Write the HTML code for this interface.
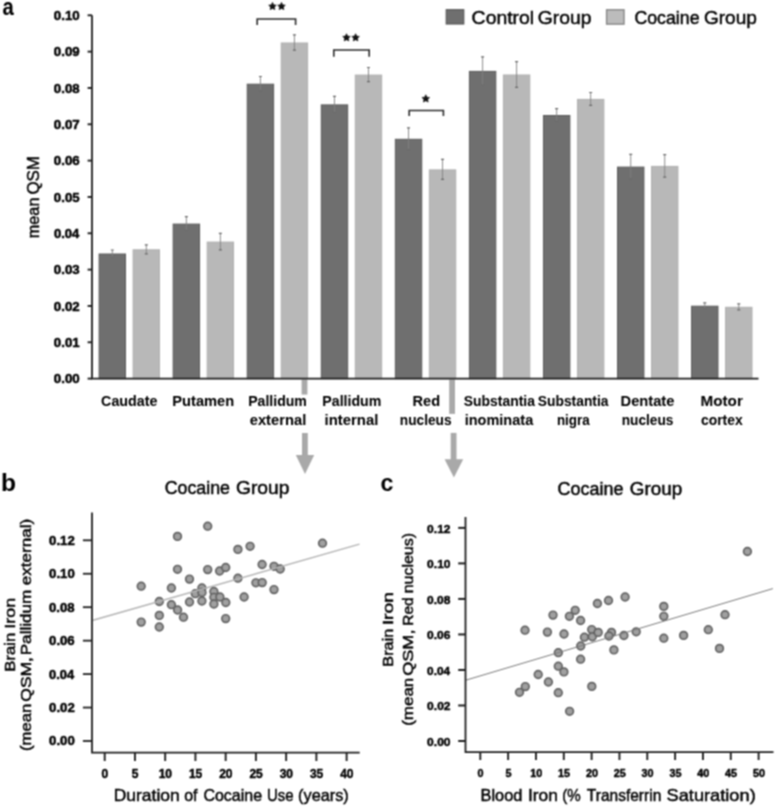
<!DOCTYPE html>
<html><head><meta charset="utf-8"><style>
html,body{margin:0;padding:0;background:#fff;}
body{width:776px;height:807px;overflow:hidden;}
svg{display:block;font-family:"Liberation Sans",sans-serif;}
</style></head><body>
<svg width="776" height="807" viewBox="0 0 776 807">
<defs><radialGradient id="ptg"><stop offset="0" stop-color="#a6a6a6"/><stop offset="0.55" stop-color="#9c9c9c"/><stop offset="1" stop-color="#8a8a8a"/></radialGradient><filter id="soft" filterUnits="userSpaceOnUse" x="0" y="0" width="776" height="807" color-interpolation-filters="sRGB"><feConvolveMatrix order="3" kernelMatrix="1 2 1 2 4 2 1 2 1" divisor="16" edgeMode="duplicate"/></filter></defs>
<g filter="url(#soft)">
<rect width="776" height="807" fill="#fff"/>
<rect x="301.60" y="379.50" width="5.8" height="15.10" fill="#a9a9a9"/>
<rect x="302.00" y="433.00" width="5.8" height="22.50" fill="#a9a9a9"/>
<polygon points="295.80,455.00 314.20,455.00 305.00,474.00" fill="#a9a9a9"/>
<rect x="449.20" y="379.50" width="5.8" height="34.40" fill="#a9a9a9"/>
<rect x="450.70" y="432.90" width="5.8" height="27.10" fill="#a9a9a9"/>
<polygon points="444.60,459.20 463.20,459.20 453.90,477.50" fill="#a9a9a9"/>
<rect x="99.10" y="254.00" width="26.40" height="124.60" fill="#6f6f6f" stroke="#5c5c5c" stroke-width="1"/>
<rect x="133.10" y="249.80" width="26.40" height="128.80" fill="#b8b8b8" stroke="#b0b0b0" stroke-width="1"/>
<path d="M112.30 250.00V257.00" stroke="#808080" stroke-width="0.9" fill="none"/>
<path d="M110.80 250.00H113.80M110.80 257.00H113.80" stroke="#6a6a6a" stroke-width="1.2" fill="none"/>
<path d="M146.30 244.80V253.80" stroke="#808080" stroke-width="0.9" fill="none"/>
<path d="M144.80 244.80H147.80M144.80 253.80H147.80" stroke="#6a6a6a" stroke-width="1.2" fill="none"/>
<rect x="173.16" y="224.10" width="26.40" height="154.50" fill="#6f6f6f" stroke="#5c5c5c" stroke-width="1"/>
<rect x="207.16" y="242.10" width="26.40" height="136.50" fill="#b8b8b8" stroke="#b0b0b0" stroke-width="1"/>
<path d="M186.36 216.70V230.50" stroke="#808080" stroke-width="0.9" fill="none"/>
<path d="M184.86 216.70H187.86M184.86 230.50H187.86" stroke="#6a6a6a" stroke-width="1.2" fill="none"/>
<path d="M220.36 233.30V249.90" stroke="#808080" stroke-width="0.9" fill="none"/>
<path d="M218.86 233.30H221.86M218.86 249.90H221.86" stroke="#6a6a6a" stroke-width="1.2" fill="none"/>
<rect x="247.22" y="84.20" width="26.40" height="294.40" fill="#6f6f6f" stroke="#5c5c5c" stroke-width="1"/>
<rect x="281.22" y="43.00" width="26.40" height="335.60" fill="#b8b8b8" stroke="#b0b0b0" stroke-width="1"/>
<path d="M260.42 76.50V90.90" stroke="#808080" stroke-width="0.9" fill="none"/>
<path d="M258.92 76.50H261.92M258.92 90.90H261.92" stroke="#6a6a6a" stroke-width="1.2" fill="none"/>
<path d="M294.42 34.80V50.20" stroke="#808080" stroke-width="0.9" fill="none"/>
<path d="M292.92 34.80H295.92M292.92 50.20H295.92" stroke="#6a6a6a" stroke-width="1.2" fill="none"/>
<rect x="321.28" y="104.90" width="26.40" height="273.70" fill="#6f6f6f" stroke="#5c5c5c" stroke-width="1"/>
<rect x="355.28" y="75.10" width="26.40" height="303.50" fill="#b8b8b8" stroke="#b0b0b0" stroke-width="1"/>
<path d="M334.48 96.30V112.50" stroke="#808080" stroke-width="0.9" fill="none"/>
<path d="M332.98 96.30H335.98M332.98 112.50H335.98" stroke="#6a6a6a" stroke-width="1.2" fill="none"/>
<path d="M368.48 67.50V81.70" stroke="#808080" stroke-width="0.9" fill="none"/>
<path d="M366.98 67.50H369.98M366.98 81.70H369.98" stroke="#6a6a6a" stroke-width="1.2" fill="none"/>
<rect x="395.34" y="139.30" width="26.40" height="239.30" fill="#6f6f6f" stroke="#5c5c5c" stroke-width="1"/>
<rect x="429.34" y="169.90" width="26.40" height="208.70" fill="#b8b8b8" stroke="#b0b0b0" stroke-width="1"/>
<path d="M408.54 127.90V149.70" stroke="#808080" stroke-width="0.9" fill="none"/>
<path d="M407.04 127.90H410.04M407.04 149.70H410.04" stroke="#6a6a6a" stroke-width="1.2" fill="none"/>
<path d="M442.54 159.40V179.40" stroke="#808080" stroke-width="0.9" fill="none"/>
<path d="M441.04 159.40H444.04M441.04 179.40H444.04" stroke="#6a6a6a" stroke-width="1.2" fill="none"/>
<rect x="469.40" y="71.40" width="26.40" height="307.20" fill="#6f6f6f" stroke="#5c5c5c" stroke-width="1"/>
<rect x="503.40" y="75.00" width="26.40" height="303.60" fill="#b8b8b8" stroke="#b0b0b0" stroke-width="1"/>
<path d="M482.60 56.80V85.00" stroke="#808080" stroke-width="0.9" fill="none"/>
<path d="M481.10 56.80H484.10M481.10 85.00H484.10" stroke="#6a6a6a" stroke-width="1.2" fill="none"/>
<path d="M516.60 61.70V87.30" stroke="#808080" stroke-width="0.9" fill="none"/>
<path d="M515.10 61.70H518.10M515.10 87.30H518.10" stroke="#6a6a6a" stroke-width="1.2" fill="none"/>
<rect x="543.46" y="115.50" width="26.40" height="263.10" fill="#6f6f6f" stroke="#5c5c5c" stroke-width="1"/>
<rect x="577.46" y="99.40" width="26.40" height="279.20" fill="#b8b8b8" stroke="#b0b0b0" stroke-width="1"/>
<path d="M556.66 108.70V121.30" stroke="#808080" stroke-width="0.9" fill="none"/>
<path d="M555.16 108.70H558.16M555.16 121.30H558.16" stroke="#6a6a6a" stroke-width="1.2" fill="none"/>
<path d="M590.66 92.50V105.30" stroke="#808080" stroke-width="0.9" fill="none"/>
<path d="M589.16 92.50H592.16M589.16 105.30H592.16" stroke="#6a6a6a" stroke-width="1.2" fill="none"/>
<rect x="617.52" y="167.10" width="26.40" height="211.50" fill="#6f6f6f" stroke="#5c5c5c" stroke-width="1"/>
<rect x="651.52" y="166.40" width="26.40" height="212.20" fill="#b8b8b8" stroke="#b0b0b0" stroke-width="1"/>
<path d="M630.72 154.40V178.80" stroke="#808080" stroke-width="0.9" fill="none"/>
<path d="M629.22 154.40H632.22M629.22 178.80H632.22" stroke="#6a6a6a" stroke-width="1.2" fill="none"/>
<path d="M664.72 154.60V177.20" stroke="#808080" stroke-width="0.9" fill="none"/>
<path d="M663.22 154.60H666.22M663.22 177.20H666.22" stroke="#6a6a6a" stroke-width="1.2" fill="none"/>
<rect x="691.58" y="306.20" width="26.40" height="72.40" fill="#6f6f6f" stroke="#5c5c5c" stroke-width="1"/>
<rect x="725.58" y="307.30" width="26.40" height="71.30" fill="#b8b8b8" stroke="#b0b0b0" stroke-width="1"/>
<path d="M704.78 302.90V308.50" stroke="#808080" stroke-width="0.9" fill="none"/>
<path d="M703.28 302.90H706.28M703.28 308.50H706.28" stroke="#6a6a6a" stroke-width="1.2" fill="none"/>
<path d="M738.78 303.80V309.80" stroke="#808080" stroke-width="0.9" fill="none"/>
<path d="M737.28 303.80H740.28M737.28 309.80H740.28" stroke="#6a6a6a" stroke-width="1.2" fill="none"/>
<path d="M92.00 15.2V378.60H758.5" stroke="#1e1e1e" stroke-width="1.8" fill="none"/>
<path d="M87.6 378.60H92.00" stroke="#1e1e1e" stroke-width="1.9"/>
<text x="53.87" y="383.45" font-size="13.20" font-weight="bold" textLength="25.87" lengthAdjust="spacingAndGlyphs" fill="#000" stroke="#000" stroke-width="0.5">0.00</text>
<path d="M87.6 342.27H92.00" stroke="#1e1e1e" stroke-width="1.9"/>
<text x="53.88" y="347.12" font-size="13.20" font-weight="bold" textLength="25.69" lengthAdjust="spacingAndGlyphs" fill="#000" stroke="#000" stroke-width="0.5">0.01</text>
<path d="M87.6 305.94H92.00" stroke="#1e1e1e" stroke-width="1.9"/>
<text x="53.87" y="310.79" font-size="13.20" font-weight="bold" textLength="25.86" lengthAdjust="spacingAndGlyphs" fill="#000" stroke="#000" stroke-width="0.5">0.02</text>
<path d="M87.6 269.61H92.00" stroke="#1e1e1e" stroke-width="1.9"/>
<text x="53.88" y="274.46" font-size="13.20" font-weight="bold" textLength="25.80" lengthAdjust="spacingAndGlyphs" fill="#000" stroke="#000" stroke-width="0.5">0.03</text>
<path d="M87.6 233.28H92.00" stroke="#1e1e1e" stroke-width="1.9"/>
<text x="53.88" y="238.13" font-size="13.20" font-weight="bold" textLength="25.39" lengthAdjust="spacingAndGlyphs" fill="#000" stroke="#000" stroke-width="0.5">0.04</text>
<path d="M87.6 196.95H92.00" stroke="#1e1e1e" stroke-width="1.9"/>
<text x="53.88" y="201.80" font-size="13.20" font-weight="bold" textLength="25.69" lengthAdjust="spacingAndGlyphs" fill="#000" stroke="#000" stroke-width="0.5">0.05</text>
<path d="M87.6 160.62H92.00" stroke="#1e1e1e" stroke-width="1.9"/>
<text x="53.88" y="165.47" font-size="13.20" font-weight="bold" textLength="25.80" lengthAdjust="spacingAndGlyphs" fill="#000" stroke="#000" stroke-width="0.5">0.06</text>
<path d="M87.6 124.29H92.00" stroke="#1e1e1e" stroke-width="1.9"/>
<text x="53.87" y="129.14" font-size="13.20" font-weight="bold" textLength="25.91" lengthAdjust="spacingAndGlyphs" fill="#000" stroke="#000" stroke-width="0.5">0.07</text>
<path d="M87.6 87.96H92.00" stroke="#1e1e1e" stroke-width="1.9"/>
<text x="53.88" y="92.81" font-size="13.20" font-weight="bold" textLength="25.73" lengthAdjust="spacingAndGlyphs" fill="#000" stroke="#000" stroke-width="0.5">0.08</text>
<path d="M87.6 51.63H92.00" stroke="#1e1e1e" stroke-width="1.9"/>
<text x="53.88" y="56.48" font-size="13.20" font-weight="bold" textLength="25.82" lengthAdjust="spacingAndGlyphs" fill="#000" stroke="#000" stroke-width="0.5">0.09</text>
<path d="M87.6 15.30H92.00" stroke="#1e1e1e" stroke-width="1.9"/>
<text x="53.87" y="20.15" font-size="13.20" font-weight="bold" textLength="25.87" lengthAdjust="spacingAndGlyphs" fill="#000" stroke="#000" stroke-width="0.5">0.10</text>
<text transform="rotate(-90)" x="-238.28" y="38.70" font-size="16.60" font-weight="normal" textLength="40.74" lengthAdjust="spacingAndGlyphs" fill="#000" stroke="#000" stroke-width="0.45">mean</text>
<text transform="rotate(-90)" x="-194.50" y="38.70" font-size="16.60" font-weight="normal" textLength="38.38" lengthAdjust="spacingAndGlyphs" fill="#000" stroke="#000" stroke-width="0.45">QSM</text>
<text x="101.11" y="405.60" font-size="14.40" font-weight="bold" textLength="56.37" lengthAdjust="spacingAndGlyphs" fill="#000" stroke="#000" stroke-width="0.05">Caudate</text>
<text x="172.32" y="405.60" font-size="14.40" font-weight="bold" textLength="61.89" lengthAdjust="spacingAndGlyphs" fill="#000" stroke="#000" stroke-width="0.05">Putamen</text>
<text x="248.16" y="405.60" font-size="14.40" font-weight="bold" textLength="58.72" lengthAdjust="spacingAndGlyphs" fill="#000" stroke="#000" stroke-width="0.05">Pallidum</text>
<text x="249.72" y="425.40" font-size="14.40" font-weight="bold" textLength="56.52" lengthAdjust="spacingAndGlyphs" fill="#000" stroke="#000" stroke-width="0.05">external</text>
<text x="322.35" y="405.60" font-size="14.40" font-weight="bold" textLength="58.92" lengthAdjust="spacingAndGlyphs" fill="#000" stroke="#000" stroke-width="0.05">Pallidum</text>
<text x="324.56" y="425.40" font-size="14.40" font-weight="bold" textLength="53.79" lengthAdjust="spacingAndGlyphs" fill="#000" stroke="#000" stroke-width="0.05">internal</text>
<text x="412.52" y="405.60" font-size="14.40" font-weight="bold" textLength="27.54" lengthAdjust="spacingAndGlyphs" fill="#000" stroke="#000" stroke-width="0.05">Red</text>
<text x="399.80" y="425.40" font-size="14.40" font-weight="bold" textLength="51.76" lengthAdjust="spacingAndGlyphs" fill="#000" stroke="#000" stroke-width="0.05">nucleus</text>
<text x="463.80" y="405.60" font-size="14.40" font-weight="bold" textLength="71.11" lengthAdjust="spacingAndGlyphs" fill="#000" stroke="#000" stroke-width="0.05">Substantia</text>
<text x="464.69" y="425.40" font-size="14.40" font-weight="bold" textLength="68.52" lengthAdjust="spacingAndGlyphs" fill="#000" stroke="#000" stroke-width="0.05">inominata</text>
<text x="537.80" y="405.60" font-size="14.40" font-weight="bold" textLength="70.71" lengthAdjust="spacingAndGlyphs" fill="#000" stroke="#000" stroke-width="0.05">Substantia</text>
<text x="556.92" y="425.40" font-size="14.40" font-weight="bold" textLength="32.80" lengthAdjust="spacingAndGlyphs" fill="#000" stroke="#000" stroke-width="0.05">nigra</text>
<text x="620.52" y="405.60" font-size="14.40" font-weight="bold" textLength="53.89" lengthAdjust="spacingAndGlyphs" fill="#000" stroke="#000" stroke-width="0.05">Dentate</text>
<text x="621.70" y="425.40" font-size="14.40" font-weight="bold" textLength="51.76" lengthAdjust="spacingAndGlyphs" fill="#000" stroke="#000" stroke-width="0.05">nucleus</text>
<text x="700.48" y="405.60" font-size="14.40" font-weight="bold" textLength="42.35" lengthAdjust="spacingAndGlyphs" fill="#000" stroke="#000" stroke-width="0.05">Motor</text>
<text x="700.96" y="425.40" font-size="14.40" font-weight="bold" textLength="41.75" lengthAdjust="spacingAndGlyphs" fill="#000" stroke="#000" stroke-width="0.05">cortex</text>
<path d="M257.20 25.00V19.00H295.60V25.00" stroke="#2a2a2a" stroke-width="1.6" fill="none"/>
<path d="M333.80 56.80V50.00H369.20V56.80" stroke="#2a2a2a" stroke-width="1.6" fill="none"/>
<path d="M409.20 116.00V110.50H443.40V116.00" stroke="#2a2a2a" stroke-width="1.6" fill="none"/>
<polygon points="272.50,2.35 273.69,4.76 276.35,5.15 274.43,7.03 274.88,9.68 272.50,8.43 270.12,9.68 270.57,7.03 268.65,5.15 271.31,4.76" fill="#111" stroke="#000" stroke-width="0.5" stroke-linejoin="round"/>
<polygon points="281.50,2.35 282.69,4.76 285.35,5.15 283.43,7.03 283.88,9.68 281.50,8.43 279.12,9.68 279.57,7.03 277.65,5.15 280.31,4.76" fill="#111" stroke="#000" stroke-width="0.5" stroke-linejoin="round"/>
<polygon points="346.50,33.65 347.69,36.06 350.35,36.45 348.43,38.33 348.88,40.98 346.50,39.73 344.12,40.98 344.57,38.33 342.65,36.45 345.31,36.06" fill="#111" stroke="#000" stroke-width="0.5" stroke-linejoin="round"/>
<polygon points="355.60,33.65 356.79,36.06 359.45,36.45 357.53,38.33 357.98,40.98 355.60,39.73 353.22,40.98 353.67,38.33 351.75,36.45 354.41,36.06" fill="#111" stroke="#000" stroke-width="0.5" stroke-linejoin="round"/>
<polygon points="425.80,94.70 427.00,97.14 429.70,97.53 427.75,99.43 428.21,102.12 425.80,100.85 423.39,102.12 423.85,99.43 421.90,97.53 424.60,97.14" fill="#111" stroke="#000" stroke-width="0.5" stroke-linejoin="round"/>
<rect x="446.2" y="9.7" width="17.6" height="14.3" fill="#6f6f6f" stroke="#555" stroke-width="1.1"/>
<rect x="606.6" y="9.8" width="17.4" height="14.3" fill="#bcbcbc" stroke="#878787" stroke-width="1.4"/>
<text x="471.61" y="23.90" font-size="18.80" font-weight="normal" textLength="62.58" lengthAdjust="spacingAndGlyphs" fill="#000" stroke="#000" stroke-width="0.45">Control</text>
<text x="537.83" y="23.90" font-size="18.80" font-weight="normal" textLength="53.68" lengthAdjust="spacingAndGlyphs" fill="#000" stroke="#000" stroke-width="0.45">Group</text>
<text x="634.40" y="23.90" font-size="18.80" font-weight="normal" textLength="65.19" lengthAdjust="spacingAndGlyphs" fill="#000" stroke="#000" stroke-width="0.45">Cocaine</text>
<text x="703.94" y="23.90" font-size="18.80" font-weight="normal" textLength="52.96" lengthAdjust="spacingAndGlyphs" fill="#000" stroke="#000" stroke-width="0.45">Group</text>
<text x="2.41" y="15.00" font-size="23.00" font-weight="bold" textLength="11.26" lengthAdjust="spacingAndGlyphs" fill="#000" stroke="#000" stroke-width="0.05">a</text>
<text x="1.08" y="490.60" font-size="23.00" font-weight="bold" textLength="15.03" lengthAdjust="spacingAndGlyphs" fill="#000" stroke="#000" stroke-width="0.05">b</text>
<text x="380.60" y="490.70" font-size="23.00" font-weight="bold" textLength="12.88" lengthAdjust="spacingAndGlyphs" fill="#000" stroke="#000" stroke-width="0.05">c</text>
<text x="164.70" y="494.00" font-size="17.60" font-weight="normal" textLength="65.29" lengthAdjust="spacingAndGlyphs" fill="#000" stroke="#000" stroke-width="0.45">Cocaine</text>
<text x="235.93" y="494.00" font-size="17.60" font-weight="normal" textLength="53.48" lengthAdjust="spacingAndGlyphs" fill="#000" stroke="#000" stroke-width="0.45">Group</text>
<circle cx="141.20" cy="586.20" r="3.95" fill="url(#ptg)" stroke="#5e5e5e" stroke-width="1.4"/>
<circle cx="141.20" cy="622.10" r="3.95" fill="url(#ptg)" stroke="#5e5e5e" stroke-width="1.4"/>
<circle cx="159.30" cy="601.50" r="3.95" fill="url(#ptg)" stroke="#5e5e5e" stroke-width="1.4"/>
<circle cx="159.30" cy="615.40" r="3.95" fill="url(#ptg)" stroke="#5e5e5e" stroke-width="1.4"/>
<circle cx="159.30" cy="627.00" r="3.95" fill="url(#ptg)" stroke="#5e5e5e" stroke-width="1.4"/>
<circle cx="171.40" cy="588.00" r="3.95" fill="url(#ptg)" stroke="#5e5e5e" stroke-width="1.4"/>
<circle cx="171.40" cy="604.70" r="3.95" fill="url(#ptg)" stroke="#5e5e5e" stroke-width="1.4"/>
<circle cx="177.50" cy="536.40" r="3.95" fill="url(#ptg)" stroke="#5e5e5e" stroke-width="1.4"/>
<circle cx="177.50" cy="569.30" r="3.95" fill="url(#ptg)" stroke="#5e5e5e" stroke-width="1.4"/>
<circle cx="177.60" cy="610.00" r="3.95" fill="url(#ptg)" stroke="#5e5e5e" stroke-width="1.4"/>
<circle cx="183.50" cy="617.20" r="3.95" fill="url(#ptg)" stroke="#5e5e5e" stroke-width="1.4"/>
<circle cx="189.50" cy="579.10" r="3.95" fill="url(#ptg)" stroke="#5e5e5e" stroke-width="1.4"/>
<circle cx="189.50" cy="602.00" r="3.95" fill="url(#ptg)" stroke="#5e5e5e" stroke-width="1.4"/>
<circle cx="195.30" cy="593.70" r="3.95" fill="url(#ptg)" stroke="#5e5e5e" stroke-width="1.4"/>
<circle cx="201.90" cy="588.00" r="3.95" fill="url(#ptg)" stroke="#5e5e5e" stroke-width="1.4"/>
<circle cx="202.00" cy="592.50" r="3.95" fill="url(#ptg)" stroke="#5e5e5e" stroke-width="1.4"/>
<circle cx="201.90" cy="601.00" r="3.95" fill="url(#ptg)" stroke="#5e5e5e" stroke-width="1.4"/>
<circle cx="207.70" cy="526.20" r="3.95" fill="url(#ptg)" stroke="#5e5e5e" stroke-width="1.4"/>
<circle cx="207.70" cy="569.60" r="3.95" fill="url(#ptg)" stroke="#5e5e5e" stroke-width="1.4"/>
<circle cx="213.90" cy="591.50" r="3.95" fill="url(#ptg)" stroke="#5e5e5e" stroke-width="1.4"/>
<circle cx="213.90" cy="597.30" r="3.95" fill="url(#ptg)" stroke="#5e5e5e" stroke-width="1.4"/>
<circle cx="213.90" cy="604.00" r="3.95" fill="url(#ptg)" stroke="#5e5e5e" stroke-width="1.4"/>
<circle cx="219.60" cy="571.00" r="3.95" fill="url(#ptg)" stroke="#5e5e5e" stroke-width="1.4"/>
<circle cx="219.90" cy="597.00" r="3.95" fill="url(#ptg)" stroke="#5e5e5e" stroke-width="1.4"/>
<circle cx="225.70" cy="567.50" r="3.95" fill="url(#ptg)" stroke="#5e5e5e" stroke-width="1.4"/>
<circle cx="225.80" cy="602.50" r="3.95" fill="url(#ptg)" stroke="#5e5e5e" stroke-width="1.4"/>
<circle cx="225.70" cy="618.60" r="3.95" fill="url(#ptg)" stroke="#5e5e5e" stroke-width="1.4"/>
<circle cx="237.90" cy="549.40" r="3.95" fill="url(#ptg)" stroke="#5e5e5e" stroke-width="1.4"/>
<circle cx="237.90" cy="578.20" r="3.95" fill="url(#ptg)" stroke="#5e5e5e" stroke-width="1.4"/>
<circle cx="244.10" cy="597.00" r="3.95" fill="url(#ptg)" stroke="#5e5e5e" stroke-width="1.4"/>
<circle cx="250.10" cy="546.30" r="3.95" fill="url(#ptg)" stroke="#5e5e5e" stroke-width="1.4"/>
<circle cx="255.90" cy="582.80" r="3.95" fill="url(#ptg)" stroke="#5e5e5e" stroke-width="1.4"/>
<circle cx="262.20" cy="582.60" r="3.95" fill="url(#ptg)" stroke="#5e5e5e" stroke-width="1.4"/>
<circle cx="262.10" cy="564.50" r="3.95" fill="url(#ptg)" stroke="#5e5e5e" stroke-width="1.4"/>
<circle cx="274.00" cy="566.30" r="3.95" fill="url(#ptg)" stroke="#5e5e5e" stroke-width="1.4"/>
<circle cx="274.00" cy="589.60" r="3.95" fill="url(#ptg)" stroke="#5e5e5e" stroke-width="1.4"/>
<circle cx="280.20" cy="569.00" r="3.95" fill="url(#ptg)" stroke="#5e5e5e" stroke-width="1.4"/>
<circle cx="322.50" cy="543.20" r="3.95" fill="url(#ptg)" stroke="#5e5e5e" stroke-width="1.4"/>
<line x1="93" y1="620.3" x2="359.5" y2="544.1" stroke="#b4b4b4" stroke-width="1.5"/>
<path d="M92.00 512.6V752.6H359.7" stroke="#1e1e1e" stroke-width="1.8" fill="none"/>
<path d="M82.9 741.00H92.00" stroke="#1e1e1e" stroke-width="1.8"/>
<text x="49.08" y="745.45" font-size="12.70" font-weight="bold" textLength="25.66" lengthAdjust="spacingAndGlyphs" fill="#000" stroke="#000" stroke-width="0.5">0.00</text>
<path d="M82.9 707.55H92.00" stroke="#1e1e1e" stroke-width="1.8"/>
<text x="49.08" y="712.00" font-size="12.70" font-weight="bold" textLength="25.65" lengthAdjust="spacingAndGlyphs" fill="#000" stroke="#000" stroke-width="0.5">0.02</text>
<path d="M82.9 674.10H92.00" stroke="#1e1e1e" stroke-width="1.8"/>
<text x="49.09" y="678.55" font-size="12.70" font-weight="bold" textLength="25.18" lengthAdjust="spacingAndGlyphs" fill="#000" stroke="#000" stroke-width="0.5">0.04</text>
<path d="M82.9 640.65H92.00" stroke="#1e1e1e" stroke-width="1.8"/>
<text x="49.08" y="645.10" font-size="12.70" font-weight="bold" textLength="25.60" lengthAdjust="spacingAndGlyphs" fill="#000" stroke="#000" stroke-width="0.5">0.06</text>
<path d="M82.9 607.20H92.00" stroke="#1e1e1e" stroke-width="1.8"/>
<text x="49.08" y="611.65" font-size="12.70" font-weight="bold" textLength="25.52" lengthAdjust="spacingAndGlyphs" fill="#000" stroke="#000" stroke-width="0.5">0.08</text>
<path d="M82.9 573.75H92.00" stroke="#1e1e1e" stroke-width="1.8"/>
<text x="49.08" y="578.20" font-size="12.70" font-weight="bold" textLength="25.66" lengthAdjust="spacingAndGlyphs" fill="#000" stroke="#000" stroke-width="0.5">0.10</text>
<path d="M82.9 540.30H92.00" stroke="#1e1e1e" stroke-width="1.8"/>
<text x="49.08" y="544.75" font-size="12.70" font-weight="bold" textLength="25.65" lengthAdjust="spacingAndGlyphs" fill="#000" stroke="#000" stroke-width="0.5">0.12</text>
<path d="M104.70 752.6V761" stroke="#1e1e1e" stroke-width="1.9"/>
<text x="104.90" y="778.20" font-size="12.00" font-weight="bold" text-anchor="middle" fill="#000" stroke="#000" stroke-width="0.45">0</text>
<path d="M134.94 752.6V761" stroke="#1e1e1e" stroke-width="1.9"/>
<text x="135.14" y="778.20" font-size="12.00" font-weight="bold" text-anchor="middle" fill="#000" stroke="#000" stroke-width="0.45">5</text>
<path d="M165.18 752.6V761" stroke="#1e1e1e" stroke-width="1.9"/>
<text x="165.38" y="778.20" font-size="12.00" font-weight="bold" text-anchor="middle" fill="#000" stroke="#000" stroke-width="0.45">10</text>
<path d="M195.42 752.6V761" stroke="#1e1e1e" stroke-width="1.9"/>
<text x="195.62" y="778.20" font-size="12.00" font-weight="bold" text-anchor="middle" fill="#000" stroke="#000" stroke-width="0.45">15</text>
<path d="M225.66 752.6V761" stroke="#1e1e1e" stroke-width="1.9"/>
<text x="225.86" y="778.20" font-size="12.00" font-weight="bold" text-anchor="middle" fill="#000" stroke="#000" stroke-width="0.45">20</text>
<path d="M255.90 752.6V761" stroke="#1e1e1e" stroke-width="1.9"/>
<text x="256.10" y="778.20" font-size="12.00" font-weight="bold" text-anchor="middle" fill="#000" stroke="#000" stroke-width="0.45">25</text>
<path d="M286.14 752.6V761" stroke="#1e1e1e" stroke-width="1.9"/>
<text x="286.34" y="778.20" font-size="12.00" font-weight="bold" text-anchor="middle" fill="#000" stroke="#000" stroke-width="0.45">30</text>
<path d="M316.38 752.6V761" stroke="#1e1e1e" stroke-width="1.9"/>
<text x="316.58" y="778.20" font-size="12.00" font-weight="bold" text-anchor="middle" fill="#000" stroke="#000" stroke-width="0.45">35</text>
<path d="M346.62 752.6V761" stroke="#1e1e1e" stroke-width="1.9"/>
<text x="346.82" y="778.20" font-size="12.00" font-weight="bold" text-anchor="middle" fill="#000" stroke="#000" stroke-width="0.45">40</text>
<text x="113.67" y="800.60" font-size="16.40" font-weight="normal" textLength="66.07" lengthAdjust="spacingAndGlyphs" fill="#000" stroke="#000" stroke-width="0.45">Duration</text>
<text x="184.23" y="800.60" font-size="16.40" font-weight="normal" textLength="13.35" lengthAdjust="spacingAndGlyphs" fill="#000" stroke="#000" stroke-width="0.45">of</text>
<text x="203.39" y="800.60" font-size="16.40" font-weight="normal" textLength="58.72" lengthAdjust="spacingAndGlyphs" fill="#000" stroke="#000" stroke-width="0.45">Cocaine</text>
<text x="266.95" y="800.60" font-size="16.40" font-weight="normal" textLength="26.62" lengthAdjust="spacingAndGlyphs" fill="#000" stroke="#000" stroke-width="0.45">Use</text>
<text x="298.09" y="800.60" font-size="16.40" font-weight="normal" textLength="50.62" lengthAdjust="spacingAndGlyphs" fill="#000" stroke="#000" stroke-width="0.45">(years)</text>
<text transform="rotate(-90)" x="-671.67" y="15.00" font-size="14.80" font-weight="normal" textLength="38.85" lengthAdjust="spacingAndGlyphs" fill="#000" stroke="#000" stroke-width="0.45">Brain</text>
<text transform="rotate(-90)" x="-628.86" y="15.00" font-size="14.80" font-weight="normal" textLength="31.03" lengthAdjust="spacingAndGlyphs" fill="#000" stroke="#000" stroke-width="0.45">Iron</text>
<text transform="rotate(-90)" x="-751.04" y="31.30" font-size="14.80" font-weight="normal" textLength="47.42" lengthAdjust="spacingAndGlyphs" fill="#000" stroke="#000" stroke-width="0.45">(mean</text>
<text transform="rotate(-90)" x="-701.73" y="31.30" font-size="14.80" font-weight="normal" textLength="44.70" lengthAdjust="spacingAndGlyphs" fill="#000" stroke="#000" stroke-width="0.45">QSM,</text>
<text transform="rotate(-90)" x="-655.30" y="31.30" font-size="14.80" font-weight="normal" textLength="65.63" lengthAdjust="spacingAndGlyphs" fill="#000" stroke="#000" stroke-width="0.45">Pallidum</text>
<text transform="rotate(-90)" x="-585.22" y="31.30" font-size="14.80" font-weight="normal" textLength="66.38" lengthAdjust="spacingAndGlyphs" fill="#000" stroke="#000" stroke-width="0.45">external)</text>
<text x="557.59" y="494.80" font-size="17.60" font-weight="normal" textLength="65.91" lengthAdjust="spacingAndGlyphs" fill="#000" stroke="#000" stroke-width="0.45">Cocaine</text>
<text x="629.75" y="494.80" font-size="17.60" font-weight="normal" textLength="52.44" lengthAdjust="spacingAndGlyphs" fill="#000" stroke="#000" stroke-width="0.45">Group</text>
<circle cx="519.50" cy="692.30" r="3.95" fill="url(#ptg)" stroke="#5e5e5e" stroke-width="1.4"/>
<circle cx="525.30" cy="686.60" r="3.95" fill="url(#ptg)" stroke="#5e5e5e" stroke-width="1.4"/>
<circle cx="525.00" cy="630.20" r="3.95" fill="url(#ptg)" stroke="#5e5e5e" stroke-width="1.4"/>
<circle cx="538.20" cy="674.50" r="3.95" fill="url(#ptg)" stroke="#5e5e5e" stroke-width="1.4"/>
<circle cx="547.40" cy="632.10" r="3.95" fill="url(#ptg)" stroke="#5e5e5e" stroke-width="1.4"/>
<circle cx="548.40" cy="682.00" r="3.95" fill="url(#ptg)" stroke="#5e5e5e" stroke-width="1.4"/>
<circle cx="553.00" cy="615.10" r="3.95" fill="url(#ptg)" stroke="#5e5e5e" stroke-width="1.4"/>
<circle cx="558.30" cy="652.70" r="3.95" fill="url(#ptg)" stroke="#5e5e5e" stroke-width="1.4"/>
<circle cx="558.30" cy="666.20" r="3.95" fill="url(#ptg)" stroke="#5e5e5e" stroke-width="1.4"/>
<circle cx="558.30" cy="692.70" r="3.95" fill="url(#ptg)" stroke="#5e5e5e" stroke-width="1.4"/>
<circle cx="564.00" cy="634.00" r="3.95" fill="url(#ptg)" stroke="#5e5e5e" stroke-width="1.4"/>
<circle cx="563.90" cy="671.90" r="3.95" fill="url(#ptg)" stroke="#5e5e5e" stroke-width="1.4"/>
<circle cx="569.40" cy="616.30" r="3.95" fill="url(#ptg)" stroke="#5e5e5e" stroke-width="1.4"/>
<circle cx="569.60" cy="711.30" r="3.95" fill="url(#ptg)" stroke="#5e5e5e" stroke-width="1.4"/>
<circle cx="575.20" cy="610.30" r="3.95" fill="url(#ptg)" stroke="#5e5e5e" stroke-width="1.4"/>
<circle cx="580.60" cy="620.50" r="3.95" fill="url(#ptg)" stroke="#5e5e5e" stroke-width="1.4"/>
<circle cx="580.70" cy="646.00" r="3.95" fill="url(#ptg)" stroke="#5e5e5e" stroke-width="1.4"/>
<circle cx="580.60" cy="659.20" r="3.95" fill="url(#ptg)" stroke="#5e5e5e" stroke-width="1.4"/>
<circle cx="584.40" cy="637.20" r="3.95" fill="url(#ptg)" stroke="#5e5e5e" stroke-width="1.4"/>
<circle cx="591.70" cy="629.60" r="3.95" fill="url(#ptg)" stroke="#5e5e5e" stroke-width="1.4"/>
<circle cx="592.30" cy="636.80" r="3.95" fill="url(#ptg)" stroke="#5e5e5e" stroke-width="1.4"/>
<circle cx="591.80" cy="686.40" r="3.95" fill="url(#ptg)" stroke="#5e5e5e" stroke-width="1.4"/>
<circle cx="597.40" cy="603.50" r="3.95" fill="url(#ptg)" stroke="#5e5e5e" stroke-width="1.4"/>
<circle cx="598.20" cy="632.40" r="3.95" fill="url(#ptg)" stroke="#5e5e5e" stroke-width="1.4"/>
<circle cx="608.50" cy="600.50" r="3.95" fill="url(#ptg)" stroke="#5e5e5e" stroke-width="1.4"/>
<circle cx="611.50" cy="632.40" r="3.95" fill="url(#ptg)" stroke="#5e5e5e" stroke-width="1.4"/>
<circle cx="608.90" cy="636.00" r="3.95" fill="url(#ptg)" stroke="#5e5e5e" stroke-width="1.4"/>
<circle cx="613.90" cy="649.90" r="3.95" fill="url(#ptg)" stroke="#5e5e5e" stroke-width="1.4"/>
<circle cx="623.90" cy="635.50" r="3.95" fill="url(#ptg)" stroke="#5e5e5e" stroke-width="1.4"/>
<circle cx="625.10" cy="597.00" r="3.95" fill="url(#ptg)" stroke="#5e5e5e" stroke-width="1.4"/>
<circle cx="636.20" cy="631.80" r="3.95" fill="url(#ptg)" stroke="#5e5e5e" stroke-width="1.4"/>
<circle cx="663.80" cy="606.40" r="3.95" fill="url(#ptg)" stroke="#5e5e5e" stroke-width="1.4"/>
<circle cx="663.80" cy="616.30" r="3.95" fill="url(#ptg)" stroke="#5e5e5e" stroke-width="1.4"/>
<circle cx="663.80" cy="638.20" r="3.95" fill="url(#ptg)" stroke="#5e5e5e" stroke-width="1.4"/>
<circle cx="683.60" cy="635.40" r="3.95" fill="url(#ptg)" stroke="#5e5e5e" stroke-width="1.4"/>
<circle cx="708.30" cy="629.70" r="3.95" fill="url(#ptg)" stroke="#5e5e5e" stroke-width="1.4"/>
<circle cx="719.50" cy="648.40" r="3.95" fill="url(#ptg)" stroke="#5e5e5e" stroke-width="1.4"/>
<circle cx="725.00" cy="614.70" r="3.95" fill="url(#ptg)" stroke="#5e5e5e" stroke-width="1.4"/>
<circle cx="747.40" cy="551.50" r="3.95" fill="url(#ptg)" stroke="#5e5e5e" stroke-width="1.4"/>
<line x1="465.8" y1="680.2" x2="772.9" y2="588.6" stroke="#7a7a7a" stroke-width="1.0"/>
<path d="M465.50 516.9V752.2H773.5" stroke="#1e1e1e" stroke-width="1.8" fill="none"/>
<path d="M458.2 741.00H465.50" stroke="#1e1e1e" stroke-width="2.0"/>
<text x="427.13" y="745.70" font-size="11.20" font-weight="bold" textLength="23.37" lengthAdjust="spacingAndGlyphs" fill="#000" stroke="#000" stroke-width="0.45">0.00</text>
<path d="M458.2 705.48H465.50" stroke="#1e1e1e" stroke-width="2.0"/>
<text x="427.13" y="710.18" font-size="11.20" font-weight="bold" textLength="23.36" lengthAdjust="spacingAndGlyphs" fill="#000" stroke="#000" stroke-width="0.45">0.02</text>
<path d="M458.2 669.96H465.50" stroke="#1e1e1e" stroke-width="2.0"/>
<text x="427.13" y="674.66" font-size="11.20" font-weight="bold" textLength="22.93" lengthAdjust="spacingAndGlyphs" fill="#000" stroke="#000" stroke-width="0.45">0.04</text>
<path d="M458.2 634.44H465.50" stroke="#1e1e1e" stroke-width="2.0"/>
<text x="427.13" y="639.14" font-size="11.20" font-weight="bold" textLength="23.31" lengthAdjust="spacingAndGlyphs" fill="#000" stroke="#000" stroke-width="0.45">0.06</text>
<path d="M458.2 598.92H465.50" stroke="#1e1e1e" stroke-width="2.0"/>
<text x="427.13" y="603.62" font-size="11.20" font-weight="bold" textLength="23.24" lengthAdjust="spacingAndGlyphs" fill="#000" stroke="#000" stroke-width="0.45">0.08</text>
<path d="M458.2 563.40H465.50" stroke="#1e1e1e" stroke-width="2.0"/>
<text x="427.13" y="568.10" font-size="11.20" font-weight="bold" textLength="23.37" lengthAdjust="spacingAndGlyphs" fill="#000" stroke="#000" stroke-width="0.45">0.10</text>
<path d="M458.2 527.88H465.50" stroke="#1e1e1e" stroke-width="2.0"/>
<text x="427.13" y="532.58" font-size="11.20" font-weight="bold" textLength="23.36" lengthAdjust="spacingAndGlyphs" fill="#000" stroke="#000" stroke-width="0.45">0.12</text>
<path d="M480.30 752.2V760" stroke="#1e1e1e" stroke-width="1.9"/>
<text x="480.60" y="777.20" font-size="10.80" font-weight="bold" text-anchor="middle" fill="#000" stroke="#000" stroke-width="0.45">0</text>
<path d="M508.13 752.2V760" stroke="#1e1e1e" stroke-width="1.9"/>
<text x="508.43" y="777.20" font-size="10.80" font-weight="bold" text-anchor="middle" fill="#000" stroke="#000" stroke-width="0.45">5</text>
<path d="M535.96 752.2V760" stroke="#1e1e1e" stroke-width="1.9"/>
<text x="536.26" y="777.20" font-size="10.80" font-weight="bold" text-anchor="middle" fill="#000" stroke="#000" stroke-width="0.45">10</text>
<path d="M563.79 752.2V760" stroke="#1e1e1e" stroke-width="1.9"/>
<text x="564.09" y="777.20" font-size="10.80" font-weight="bold" text-anchor="middle" fill="#000" stroke="#000" stroke-width="0.45">15</text>
<path d="M591.62 752.2V760" stroke="#1e1e1e" stroke-width="1.9"/>
<text x="591.92" y="777.20" font-size="10.80" font-weight="bold" text-anchor="middle" fill="#000" stroke="#000" stroke-width="0.45">20</text>
<path d="M619.45 752.2V760" stroke="#1e1e1e" stroke-width="1.9"/>
<text x="619.75" y="777.20" font-size="10.80" font-weight="bold" text-anchor="middle" fill="#000" stroke="#000" stroke-width="0.45">25</text>
<path d="M647.28 752.2V760" stroke="#1e1e1e" stroke-width="1.9"/>
<text x="647.58" y="777.20" font-size="10.80" font-weight="bold" text-anchor="middle" fill="#000" stroke="#000" stroke-width="0.45">30</text>
<path d="M675.11 752.2V760" stroke="#1e1e1e" stroke-width="1.9"/>
<text x="675.41" y="777.20" font-size="10.80" font-weight="bold" text-anchor="middle" fill="#000" stroke="#000" stroke-width="0.45">35</text>
<path d="M702.94 752.2V760" stroke="#1e1e1e" stroke-width="1.9"/>
<text x="703.24" y="777.20" font-size="10.80" font-weight="bold" text-anchor="middle" fill="#000" stroke="#000" stroke-width="0.45">40</text>
<path d="M730.77 752.2V760" stroke="#1e1e1e" stroke-width="1.9"/>
<text x="731.07" y="777.20" font-size="10.80" font-weight="bold" text-anchor="middle" fill="#000" stroke="#000" stroke-width="0.45">45</text>
<path d="M758.60 752.2V760" stroke="#1e1e1e" stroke-width="1.9"/>
<text x="758.90" y="777.20" font-size="10.80" font-weight="bold" text-anchor="middle" fill="#000" stroke="#000" stroke-width="0.45">50</text>
<text x="480.56" y="801.40" font-size="16.40" font-weight="normal" textLength="41.79" lengthAdjust="spacingAndGlyphs" fill="#000" stroke="#000" stroke-width="0.45">Blood</text>
<text x="528.00" y="801.40" font-size="16.40" font-weight="normal" textLength="29.93" lengthAdjust="spacingAndGlyphs" fill="#000" stroke="#000" stroke-width="0.45">Iron</text>
<text x="562.26" y="801.40" font-size="16.40" font-weight="normal" textLength="18.48" lengthAdjust="spacingAndGlyphs" fill="#000" stroke="#000" stroke-width="0.45">(%</text>
<text x="586.85" y="801.40" font-size="16.40" font-weight="normal" textLength="74.45" lengthAdjust="spacingAndGlyphs" fill="#000" stroke="#000" stroke-width="0.45">Transferrin</text>
<text x="666.57" y="801.40" font-size="16.40" font-weight="normal" textLength="89.16" lengthAdjust="spacingAndGlyphs" fill="#000" stroke="#000" stroke-width="0.45">Saturation)</text>
<text transform="rotate(-90)" x="-666.74" y="393.00" font-size="14.80" font-weight="normal" textLength="38.10" lengthAdjust="spacingAndGlyphs" fill="#000" stroke="#000" stroke-width="0.45">Brain</text>
<text transform="rotate(-90)" x="-625.29" y="393.00" font-size="14.80" font-weight="normal" textLength="33.45" lengthAdjust="spacingAndGlyphs" fill="#000" stroke="#000" stroke-width="0.45">Iron</text>
<text transform="rotate(-90)" x="-725.85" y="413.00" font-size="14.80" font-weight="normal" textLength="48.16" lengthAdjust="spacingAndGlyphs" fill="#000" stroke="#000" stroke-width="0.45">(mean</text>
<text transform="rotate(-90)" x="-675.86" y="413.00" font-size="14.80" font-weight="normal" textLength="46.28" lengthAdjust="spacingAndGlyphs" fill="#000" stroke="#000" stroke-width="0.45">QSM,</text>
<text transform="rotate(-90)" x="-625.77" y="413.00" font-size="14.80" font-weight="normal" textLength="28.47" lengthAdjust="spacingAndGlyphs" fill="#000" stroke="#000" stroke-width="0.45">Red</text>
<text transform="rotate(-90)" x="-593.36" y="413.00" font-size="14.80" font-weight="normal" textLength="60.45" lengthAdjust="spacingAndGlyphs" fill="#000" stroke="#000" stroke-width="0.45">nucleus)</text>
</g>
</svg>
</body></html>
